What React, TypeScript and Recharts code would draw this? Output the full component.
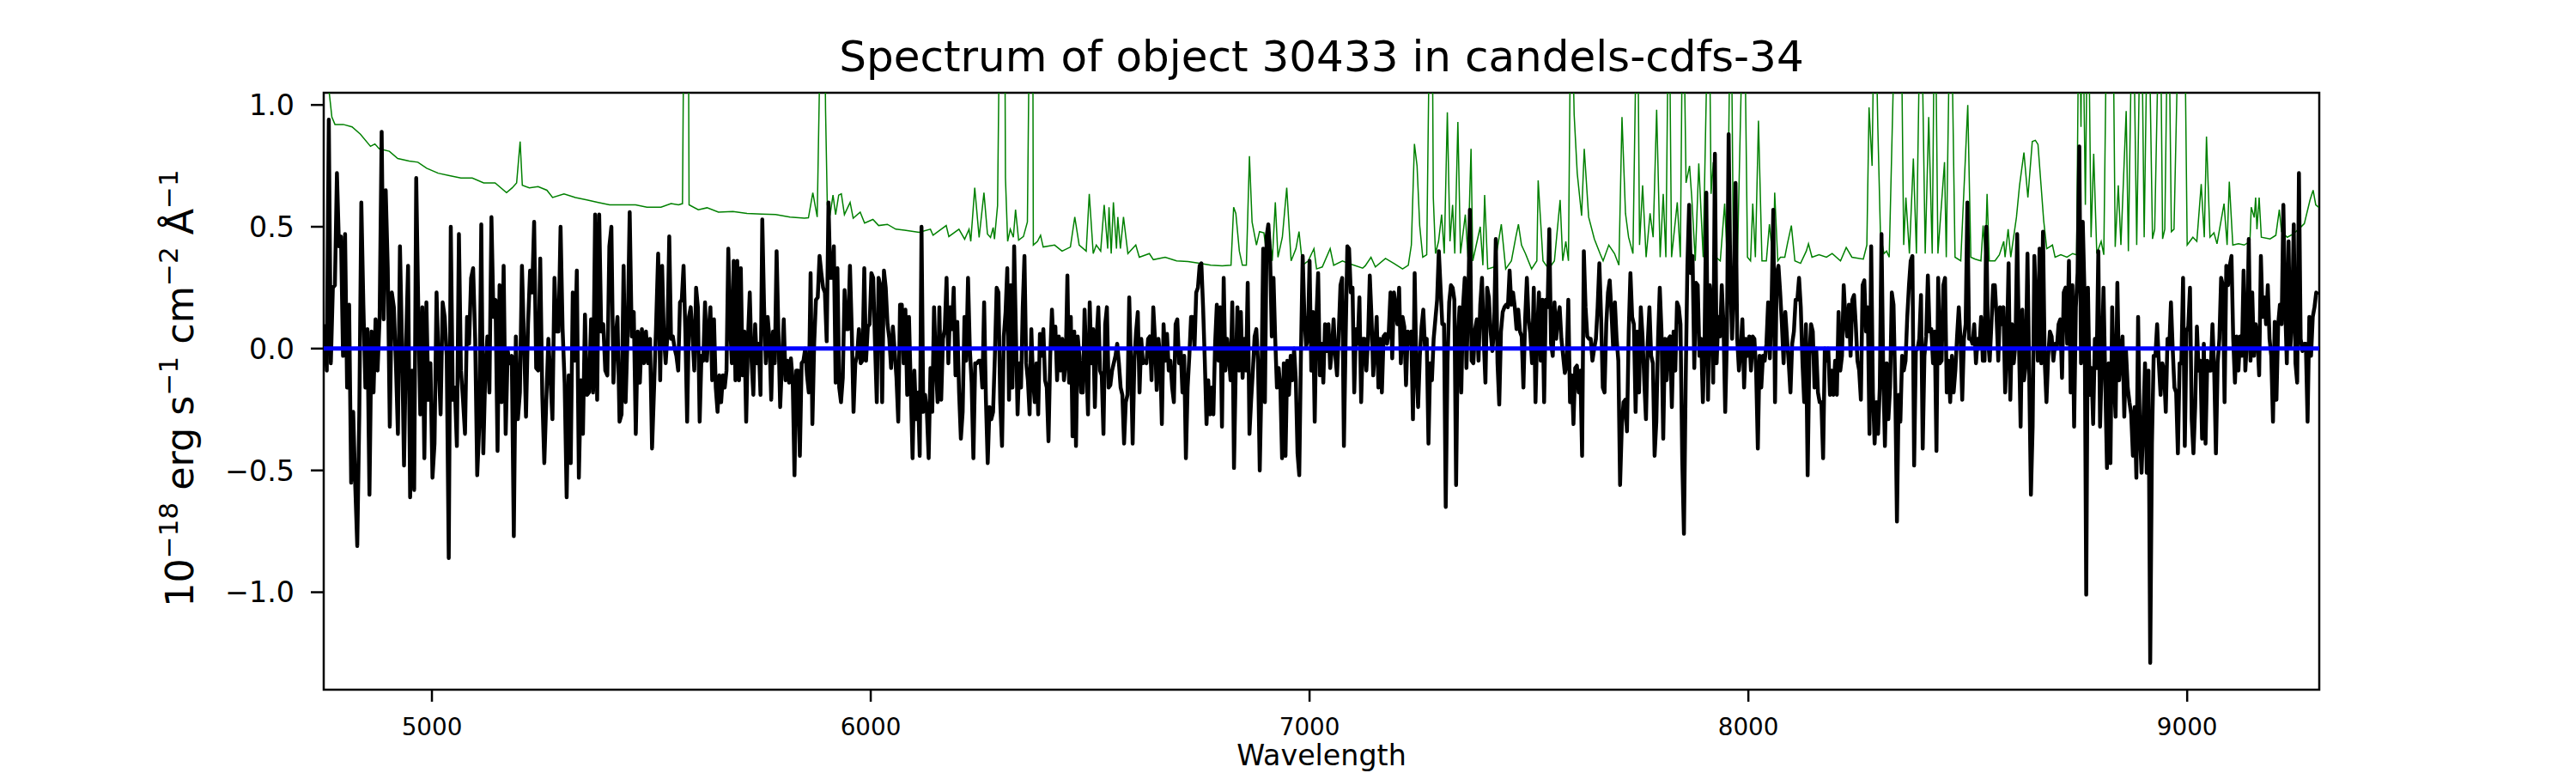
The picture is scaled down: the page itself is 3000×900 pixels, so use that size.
import React from 'react';
import { LineChart, Line, XAxis, YAxis, ReferenceArea, Label } from 'recharts';

const FONT = '"DejaVu Sans", sans-serif';

const TITLE = 'Spectrum of object 30433 in candels-cdfs-34';
const X_LABEL = 'Wavelength';
const X_DOMAIN: [number, number] = [4753.4, 9301];
const Y_DOMAIN: [number, number] = [-1.4, 1.05];
const X_TICKS = [5000, 6000, 7000, 8000, 9000];
const Y_TICKS = [-1.0, -0.5, 0.0, 0.5, 1.0];

// wavelength edges of the pieces in which the flux samples are listed
const SEGMENT_EDGES = [4753.4, 5522.5, 6305.3, 7088.1, 7870.9, 8653.7, 9300];

const FLUX_1 = [0.10,-0.09,0.94,-0.06,0.25,0.26,0.72,0.42,0.46,-0.03,0.47,-0.16,0.18,-0.55,-0.26,-0.56,-0.81,-0.27,0.60,0.18,-0.16,0.08,-0.60,0.07,-0.18,0.12,-0.09,0.13,0.89,0.12,0.65,0.33,-0.32,0.23,0.17,-0.06,-0.35,0.42,0.02,-0.48,0.02,0.34,-0.61,-0.09,-0.58,0.70,0.17,-0.27,0.17,-0.45,0.19,-0.21,-0.06,-0.53,-0.39,0.23,-0.06,-0.27,0.19,0.13,-0.03,-0.86,0.50,-0.21,-0.16,-0.40,0.47,-0.09,-0.21,-0.35,0.13,0.02,0.29,0.33,0.04,-0.52,-0.32,0.51,-0.43,-0.09,0.05,-0.18,0.54,0.13,0.20,-0.42,0.26,-0.22,0.34,-0.35,-0.01,-0.06,-0.03,-0.77,0.05,-0.29,-0.18,0.34,0.04,-0.28,0.10,0.32,0.23,0.52,-0.08,-0.09,0.37,-0.19,-0.47,-0.21,0.04,-0.12,-0.29,0.29,0.07,0.07,0.50,0.08,-0.14,-0.61,-0.11,-0.47,0.23,-0.05,0.32,-0.53,-0.13,-0.35,0.14,-0.19,-0.18,0.12,-0.18,0.55,-0.21,0.55,0.07,0.10,-0.09,-0.11,0.42,0.50,-0.14,0.04,0.13,-0.30,-0.27,0.34,-0.22,0.07,0.56,0.05,0.15,-0.35,0.07,-0.14,0.08,-0.06,0.07,-0.06,0.04,-0.41,-0.16,0.10,0.39,-0.13];
const FLUX_2 = [0.34,0.05,-0.06,0.06,0.46,0.04,0.05,0.00,-0.03,-0.09,0.19,0.20,0.34,0.07,-0.30,0.13,0.17,0.05,-0.09,0.25,0.17,-0.30,-0.03,-0.05,0.19,-0.05,0.07,0.17,-0.13,0.12,-0.16,-0.26,-0.11,-0.22,-0.11,-0.16,-0.09,0.41,0.10,-0.06,0.36,-0.13,0.36,-0.13,0.33,-0.11,0.07,-0.30,0.04,0.23,-0.05,-0.19,0.10,-0.06,0.02,-0.19,0.53,0.17,-0.06,0.13,0.04,-0.21,0.07,-0.06,0.40,0.07,-0.24,-0.06,0.12,-0.13,-0.05,-0.14,-0.04,-0.13,-0.52,-0.09,-0.09,-0.44,-0.06,-0.05,0.00,-0.11,-0.18,0.31,-0.31,0.02,0.20,0.21,0.38,0.31,0.25,0.23,0.03,0.60,0.29,0.29,0.42,-0.14,0.33,-0.16,-0.22,-0.12,0.24,0.08,0.08,0.34,0.08,-0.26,-0.06,-0.03,0.08,-0.06,-0.05,0.33,-0.05,0.09,0.10,0.31,0.29,0.02,-0.22,0.29,0.26,-0.22,0.32,0.25,0.10,0.04,-0.08,0.09,-0.01,-0.12,-0.30,0.18,0.18,-0.06,0.16,-0.19,0.13,-0.16,-0.45,-0.09,-0.29,-0.18,-0.44,0.50,-0.26,-0.19,-0.26,-0.45,-0.08,-0.26,0.17,-0.06,-0.22,0.17,-0.21,0.04,0.08,0.29,-0.06,0.17,0.08,0.25,-0.11,0.11,-0.18,-0.37,-0.26,0.13,-0.05,0.29,0.00,-0.14,-0.45,-0.06,-0.06,-0.05,-0.05,-0.16,0.19,-0.21,-0.47,-0.24,-0.29,-0.26,-0.03,0.25,0.23,-0.22,-0.40,0.05];
const FLUX_3 = [0.15,0.33,-0.21,0.26,-0.16,0.42,0.07,-0.27,-0.06,-0.16,0.17,0.38,-0.06,-0.13,-0.27,0.08,-0.13,-0.22,-0.06,-0.27,0.06,-0.03,0.08,-0.13,-0.16,-0.38,-0.03,0.16,0.00,0.09,-0.13,0.05,-0.09,0.04,-0.13,-0.06,0.30,-0.14,0.13,-0.36,0.07,-0.40,0.05,-0.03,-0.18,-0.18,0.16,-0.05,-0.27,0.19,-0.06,0.08,-0.24,0.04,0.17,-0.09,-0.11,-0.35,0.10,0.17,-0.16,-0.15,-0.09,-0.06,-0.03,0.02,-0.06,-0.16,-0.19,-0.39,-0.22,-0.19,0.21,-0.06,-0.39,-0.05,0.07,0.15,-0.18,0.04,-0.06,-0.05,-0.06,0.04,0.05,-0.13,0.17,0.04,-0.17,0.04,-0.03,-0.31,0.10,-0.05,0.06,-0.09,-0.05,-0.16,-0.22,0.10,0.12,-0.06,-0.01,-0.18,-0.03,-0.45,-0.16,-0.03,0.13,0.13,0.00,0.23,0.25,0.34,0.35,0.17,-0.05,-0.31,-0.13,-0.27,-0.16,-0.27,0.02,0.18,-0.05,0.17,-0.32,0.29,-0.09,0.04,-0.03,-0.13,0.19,-0.49,-0.09,0.17,-0.09,0.15,-0.12,0.04,-0.09,0.27,-0.35,-0.21,-0.09,0.05,0.08,-0.06,-0.50,-0.13,0.41,-0.22,0.46,0.51,0.39,0.05,0.29,0.04,-0.16,-0.08,-0.16,-0.45,-0.06,-0.44,-0.05,-0.19,-0.03,-0.13,0.00,-0.13,-0.43,-0.52,-0.01,0.38,0.13,0.01,0.04,0.36,-0.09,0.15,-0.30,0.13,0.31,-0.11,0.02,-0.14,0.10,-0.01,0.10,-0.08,0.00,0.12,-0.03,-0.11,0.07,0.26,0.29,-0.40,0.04,0.42];
const FLUX_4 = [0.41,0.23,0.25,-0.18,0.08,0.02,0.21,-0.22,0.04,0.04,-0.09,0.04,0.30,0.13,-0.11,0.00,0.13,-0.16,0.04,-0.18,0.05,0.06,0.02,0.07,0.23,-0.04,0.23,0.17,0.10,0.25,-0.06,0.13,0.09,-0.15,0.07,0.02,0.07,-0.29,0.31,-0.09,-0.24,-0.03,0.09,0.16,0.00,0.04,-0.39,-0.06,-0.13,0.04,0.12,0.20,0.40,0.25,0.10,0.10,-0.65,-0.06,0.19,0.26,0.25,0.20,-0.56,0.04,0.17,-0.18,0.17,0.29,-0.08,0.17,0.57,-0.05,-0.06,0.08,0.12,-0.05,0.18,0.29,0.04,-0.14,0.25,0.21,0.07,-0.01,0.08,0.45,-0.06,-0.23,0.07,0.15,0.17,0.18,0.17,0.32,0.18,0.23,0.17,0.08,0.16,0.07,0.05,-0.16,0.12,0.29,0.12,0.06,-0.06,0.25,-0.22,0.07,0.23,-0.05,0.20,-0.22,0.20,0.17,0.49,0.02,-0.03,0.19,0.04,0.13,0.17,0.04,-0.03,-0.10,-0.07,0.20,-0.22,-0.11,-0.31,-0.08,-0.07,-0.18,-0.09,-0.44,0.40,0.17,0.05,0.04,0.04,-0.05,0.00,0.04,0.17,0.35,0.13,-0.16,-0.18,0.10,0.23,0.28,0.15,0.00,0.19,0.04,-0.05,-0.56,-0.32,-0.22,-0.21,-0.34,0.07,0.31,0.13,0.10,-0.26,0.07,-0.18,0.17,0.05,-0.13,-0.29,0.02,0.17,-0.03,-0.06,-0.44,-0.30,0.04,0.25,0.07,-0.37,0.04,-0.13,0.04,0.05,-0.24,0.07,-0.09,0.19,0.17,0.10,-0.45,-0.76,-0.14,0.34,0.59,0.31];
const FLUX_5 = [0.38,-0.08,0.27,0.26,-0.03,0.04,-0.22,0.04,0.64,-0.21,0.26,0.17,-0.14,0.80,-0.06,0.13,0.05,0.26,0.10,-0.26,0.04,0.88,0.29,0.04,0.26,0.68,0.04,-0.09,0.00,0.12,-0.16,0.04,-0.03,0.05,-0.09,0.05,0.04,-0.09,-0.41,-0.03,-0.16,-0.03,-0.05,0.02,0.19,-0.04,0.18,0.57,-0.22,0.31,0.34,0.23,0.10,-0.06,0.15,0.04,-0.06,-0.18,0.02,0.07,0.20,0.20,0.29,0.17,-0.06,-0.22,0.10,-0.52,-0.03,0.10,0.07,-0.16,0.00,-0.18,-0.22,-0.22,-0.45,0.00,-0.05,0.00,-0.19,-0.09,-0.19,-0.05,-0.19,0.15,-0.09,-0.03,0.26,0.12,0.05,0.18,-0.03,0.20,0.22,0.10,-0.05,-0.09,-0.21,0.26,0.28,0.07,0.17,-0.35,0.42,-0.18,-0.39,-0.22,-0.35,-0.16,0.47,-0.09,-0.40,-0.06,-0.29,-0.16,0.23,0.18,-0.16,-0.71,-0.19,-0.30,-0.03,-0.09,-0.05,0.13,0.26,0.36,0.38,-0.48,-0.01,0.00,0.04,0.22,-0.41,-0.03,0.05,0.30,0.07,0.08,-0.06,0.07,-0.42,0.29,-0.06,-0.05,0.26,0.29,-0.18,-0.05,-0.22,-0.03,-0.18,-0.09,0.05,0.17,0.04,-0.21,0.04,0.10,0.60,0.04,0.04,0.02,0.10,-0.06,0.04,0.00,0.13,-0.05,-0.05,0.50,0.04,-0.05,0.10,0.26,0.26,0.13,-0.05,0.17,0.10,0.17,-0.18,0.00,0.35,-0.21,0.10,-0.06,0.02,0.47,0.04,-0.32,0.16,-0.13,-0.06,0.39,-0.11,-0.60,-0.32,0.38];
const FLUX_6 = [0.17,-0.05,0.41,-0.06,0.48,-0.05,-0.22,-0.03,0.07,0.05,-0.05,0.02,0.00,0.10,0.12,-0.12,0.23,0.25,0.02,0.36,-0.18,0.26,-0.32,0.17,0.31,0.83,-0.06,0.52,0.23,-1.01,0.25,-0.19,-0.08,-0.31,0.04,-0.08,0.40,-0.32,-0.06,0.25,-0.13,-0.49,-0.06,-0.47,0.17,-0.13,-0.28,0.27,-0.13,-0.03,0.05,-0.28,-0.01,-0.16,-0.22,-0.27,-0.44,-0.24,-0.53,0.13,-0.35,-0.51,-0.30,-0.06,-0.51,-0.09,-1.29,-0.39,-0.03,-0.03,0.10,-0.06,-0.19,-0.06,-0.09,-0.26,0.04,0.00,0.19,0.00,-0.16,-0.18,-0.43,-0.06,-0.06,0.29,-0.40,0.07,0.09,0.25,-0.29,-0.43,-0.24,0.09,-0.09,-0.05,-0.37,0.02,-0.39,-0.05,-0.09,-0.09,0.10,-0.09,-0.43,-0.06,0.04,0.29,0.26,-0.22,0.34,0.26,0.34,0.38,0.04,-0.14,0.05,-0.09,0.05,-0.03,0.32,-0.09,0.04,0.45,-0.05,0.23,-0.03,0.10,0.04,-0.11,0.38,0.13,0.21,0.10,0.26,0.04,-0.03,-0.30,0.11,-0.21,0.10,0.18,0.10,0.59,0.18,-0.06,0.44,0.00,0.12,0.51,-0.06,-0.14,0.72,0.04,-0.01,0.02,0.02,-0.30,0.13,-0.03,0.13,0.17,0.23,0.22];

// sky / noise spectrum as [wavelength, value]; values above the frame are clipped
const SKY: [number, number][] = [
[4753.4,1.4],[4766,1.05],[4772,0.95],[4779,0.92],[4798,0.92],[4818,0.91],[4837,0.88],[4860,0.83],[4870,0.84],[4880,0.82],[4903,0.81],[4922,0.78],[4948,0.77],[4968,0.765],[4988,0.74],[5014,0.72],[5040,0.71],[5066,0.70],[5092,0.70],[5118,0.68],[5144,0.68],[5170,0.64],[5183,0.66],[5193,0.68],[5201,0.85],[5206,0.67],[5222,0.66],[5242,0.665],[5262,0.65],[5275,0.62],[5301,0.635],[5327,0.62],[5353,0.61],[5379,0.60],[5405,0.59],[5431,0.59],[5464,0.59],[5490,0.58],[5522,0.58],
[5545,0.595],[5562,0.59],[5571,0.595],[5575,1.6],[5584,1.6],[5586,0.59],[5607,0.57],[5627,0.578],[5653,0.56],[5686,0.563],[5718,0.555],[5751,0.552],[5783,0.55],[5816,0.54],[5849,0.535],[5858,0.537],[5868,0.64],[5878,0.54],[5888,1.6],[5894,1.6],[5897,0.98],[5901,0.59],[5907,0.545],[5914,0.63],[5920,0.55],[5927,0.63],[5933,0.635],[5940,0.55],[5953,0.60],[5960,0.535],[5976,0.56],[5986,0.515],[6005,0.53],[6018,0.505],[6038,0.51],[6057,0.49],[6077,0.486],[6110,0.477],[6136,0.49],[6142,0.465],[6172,0.505],[6178,0.46],[6201,0.49],[6214,0.449],[6224,0.49],[6228,0.44],[6237,0.66],[6247,0.456],[6258,0.64],[6266,0.47],[6273,0.456],[6279,0.497],[6282,0.449],[6289,0.587],[6295,1.6],[6305,1.6],
[6307,0.70],[6312,0.44],[6318,0.49],[6325,0.457],[6330,0.57],[6337,0.445],[6348,0.46],[6357,0.52],[6363,1.6],[6369,1.6],[6370.5,0.425],[6380,0.44],[6387,0.465],[6393,0.417],[6419,0.425],[6436,0.40],[6455,0.417],[6465,0.54],[6475,0.425],[6491,0.40],[6498,0.635],[6507,0.39],[6514,0.425],[6524,0.40],[6532,0.59],[6540,0.41],[6543,0.58],[6548,0.39],[6553,0.60],[6560,0.41],[6563,0.54],[6569,0.41],[6576,0.54],[6586,0.39],[6604,0.425],[6612,0.375],[6635,0.39],[6644,0.365],[6671,0.375],[6697,0.36],[6723,0.357],[6749,0.35],[6775,0.342],[6801,0.34],[6821,0.342],[6827,0.58],[6832,0.555],[6840,0.40],[6847,0.342],[6856,0.342],[6863,0.79],[6869,0.52],[6879,0.425],[6886,0.48],[6896,0.475],[6902,0.39],[6909,0.48],[6915,0.36],[6922,0.60],[6928,0.375],[6938,0.457],[6948,0.66],[6958,0.36],[6969,0.41],[6976,0.48],[6984,0.342],[6997,0.36],[7010,0.41],[7016,0.327],[7029,0.335],[7047,0.41],[7055,0.342],[7075,0.36],[7088,0.35],
[7121,0.33],[7127,0.34],[7140,0.375],[7150,0.335],[7173,0.37],[7192,0.35],[7212,0.327],[7225,0.342],[7232,0.425],[7239,0.84],[7245,0.75],[7251,0.505],[7258,0.375],[7267,0.385],[7275,1.6],[7279,1.6],[7282,0.62],[7287,0.39],[7294,0.44],[7301,0.55],[7307,0.39],[7314,0.97],[7320,0.44],[7326,0.59],[7331,0.39],[7338,0.93],[7344,0.39],[7355,0.55],[7361,0.375],[7368,0.82],[7372,0.36],[7389,0.50],[7395,0.342],[7399,0.63],[7406,0.327],[7421,0.335],[7437,0.51],[7447,0.327],[7460,0.36],[7470,0.457],[7476,0.51],[7483,0.425],[7492,0.39],[7506,0.327],[7518,0.36],[7521,0.69],[7532,0.36],[7545,0.327],[7558,0.36],[7571,0.61],[7577,0.36],[7584,0.44],[7590,0.36],[7596,1.6],[7603,0.96],[7610,0.72],[7620,0.545],[7626,0.82],[7636,0.54],[7649,0.45],[7662,0.39],[7669,0.36],[7682,0.425],[7695,0.39],[7705,0.342],[7712,0.95],[7720,0.555],[7727,0.457],[7737,0.39],[7747,1.6],[7752,0.425],[7759,0.67],[7767,0.375],[7776,0.555],[7783,0.457],[7791,0.98],[7799,0.375],[7806,0.635],[7812,0.375],[7819,1.6],[7825,0.375],[7838,0.60],[7845,0.375],[7851,1.6],[7858,0.68],[7866,0.75],[7871,0.62],
[7879,0.36],[7887,0.76],[7897,0.375],[7910,1.6],[7915,0.635],[7920,0.765],[7926,0.375],[7936,0.36],[7946,0.595],[7952,0.36],[7960,1.6],[7966,0.375],[7975,0.36],[7990,1.6],[7998,0.375],[8005,0.36],[8010,0.595],[8016,0.375],[8023,0.935],[8031,0.36],[8041,0.36],[8048,0.51],[8057,0.35],[8060,0.64],[8067,0.36],[8073,0.375],[8083,0.375],[8089,0.43],[8098,0.505],[8106,0.36],[8119,0.35],[8132,0.40],[8137,0.43],[8145,0.375],[8161,0.385],[8178,0.375],[8191,0.39],[8210,0.36],[8223,0.415],[8236,0.375],[8262,0.367],[8270,0.425],[8275,0.99],[8282,0.75],[8288,1.6],[8295,0.91],[8301,0.47],[8309,0.39],[8315,0.40],[8321,0.375],[8337,1.6],[8347,1.6],[8354,0.425],[8359,0.62],[8367,0.39],[8376,0.78],[8383,0.39],[8393,1.6],[8403,0.39],[8411,0.95],[8419,0.39],[8425,1.6],[8432,0.39],[8447,0.765],[8451,0.375],[8461,1.6],[8471,0.375],[8484,0.36],[8500,1.0],[8507,0.375],[8517,0.367],[8530,0.36],[8535,0.505],[8540,0.375],[8544,0.635],[8549,0.36],[8562,0.36],[8572,0.385],[8582,0.44],[8585,0.375],[8592,0.49],[8598,0.375],[8611,0.54],[8618,0.67],[8628,0.805],[8637,0.62],[8647,0.85],[8654,0.855],
[8660,0.838],[8667,0.67],[8673,0.525],[8680,0.41],[8693,0.425],[8699,0.375],[8712,0.385],[8726,0.375],[8739,0.39],[8748,0.385],[8754,1.6],[8758,0.91],[8761,1.6],[8768,0.59],[8774,1.6],[8781,0.457],[8787,0.80],[8794,0.39],[8804,0.44],[8810,0.385],[8818,1.6],[8830,1.6],[8836,0.417],[8843,0.67],[8849,0.425],[8861,0.975],[8866,0.40],[8876,1.6],[8885,0.425],[8895,1.6],[8902,0.457],[8911,1.6],[8921,0.45],[8926,0.49],[8938,1.6],[8944,0.45],[8949,0.49],[8957,1.6],[8964,0.48],[8970,0.49],[8983,1.6],[8993,1.6],[9000,0.425],[9013,0.457],[9022,0.44],[9032,0.675],[9039,0.457],[9044,0.87],[9052,0.457],[9061,0.475],[9068,0.43],[9084,0.595],[9091,0.425],[9096,0.685],[9104,0.425],[9117,0.43],[9130,0.425],[9143,0.44],[9146,0.58],[9153,0.538],[9156,0.62],[9159,0.49],[9164,0.62],[9169,0.457],[9189,0.45],[9202,0.465],[9210,0.57],[9215,0.48],[9228,0.457],[9241,0.47],[9254,0.49],[9267,0.513],[9280,0.61],[9287,0.65],[9293,0.59],[9300,0.58]
];

const MODEL: [number, number][] = [[4753.4, 0], [9301, 0]];

function spread(values: number[], start: number, end: number) {
  const step = (end - start) / values.length;
  return values.map((v, i) => ({ w: start + (i + 0.5) * step, v }));
}

const FLUX_PIECES = [FLUX_1, FLUX_2, FLUX_3, FLUX_4, FLUX_5, FLUX_6];
const fluxData = FLUX_PIECES.flatMap((vals, k) => spread(vals, SEGMENT_EDGES[k], SEGMENT_EDGES[k + 1]));
const skyData = SKY.map(([w, v]) => ({ w, v }));
const modelData = MODEL.map(([w, v]) => ({ w, v }));

const fmtY = (v: number) => v.toFixed(1).replace('-', '\u2212');

const XLabelContent = (props: any) => {
  const vb = props.viewBox || { x: 377, width: 2324 };
  return (
    <text x={vb.x + vb.width / 2} y={891} textAnchor="middle" fontFamily={FONT} fontSize={33.3} fill="#000">
      {X_LABEL}
    </text>
  );
};

const YLabelContent = () => {
  const x = 225;
  const y = 452;
  const sup = 31;
  const up = -18;
  return (
    <text x={x} y={y} transform={`rotate(-90 ${x} ${y})`} textAnchor="middle" fontFamily={FONT} fontSize={44.4} fill="#000">
      10<tspan dy={up} fontSize={sup}>{'\u221218'}</tspan>
      <tspan dy={-up}>{' erg s'}</tspan>
      <tspan dy={up} fontSize={sup}>{'\u22121'}</tspan>
      <tspan dy={-up}>{' cm'}</tspan>
      <tspan dy={up} fontSize={sup}>{'\u22122'}</tspan>
      <tspan dy={-up}>{' \u00C5'}</tspan>
      <tspan dy={up} fontSize={sup}>{'\u22121'}</tspan>
    </text>
  );
};

export default function App() {
  return (
    <div style={{ position: 'absolute', left: 0, top: 0, width: 3000, height: 900, background: '#fff' }}>
      <div
        style={{
          position: 'absolute', left: 0, top: 41, width: 3078, textAlign: 'center',
          fontFamily: FONT, fontSize: 50, lineHeight: '50px', color: '#000', whiteSpace: 'nowrap',
        }}
      >
        {TITLE}
      </div>
      <LineChart width={3000} height={900} margin={{ top: 108, right: 299, bottom: 37, left: 277 }}>
        <XAxis
          type="number"
          dataKey="w"
          domain={X_DOMAIN}
          allowDataOverflow
          ticks={X_TICKS}
          interval={0}
          height={60}
          tickSize={14}
          tickMargin={19}
          axisLine={false}
          tickLine={{ stroke: '#000', strokeWidth: 2.5 }}
          tick={{ fontSize: 27.8, fill: '#000', fontFamily: FONT }}
        >
          <Label content={XLabelContent} />
        </XAxis>
        <YAxis
          type="number"
          domain={Y_DOMAIN}
          allowDataOverflow
          ticks={Y_TICKS}
          interval={0}
          width={100}
          tickSize={15}
          tickMargin={19}
          axisLine={false}
          tickFormatter={fmtY}
          tickLine={{ stroke: '#000', strokeWidth: 2.5 }}
          tick={{ fontSize: 33.3, fill: '#000', fontFamily: FONT }}
        >
          <Label content={YLabelContent} />
        </YAxis>
        <Line data={skyData} dataKey="v" type="linear" stroke="#008000" strokeWidth={1.5} dot={false} activeDot={false} isAnimationActive={false} />
        <Line data={fluxData} dataKey="v" type="linear" stroke="#000000" strokeWidth={4.5} strokeLinejoin="round" dot={false} activeDot={false} isAnimationActive={false} />
        <Line data={modelData} dataKey="v" type="linear" stroke="#0000ff" strokeWidth={5} dot={false} activeDot={false} isAnimationActive={false} />
        <ReferenceArea
          x1={X_DOMAIN[0]}
          x2={X_DOMAIN[1]}
          y1={Y_DOMAIN[0]}
          y2={Y_DOMAIN[1]}
          fill="none"
          fillOpacity={0}
          stroke="#000"
          strokeWidth={2.5}
          ifOverflow="visible"
        />
      </LineChart>
    </div>
  );
}
